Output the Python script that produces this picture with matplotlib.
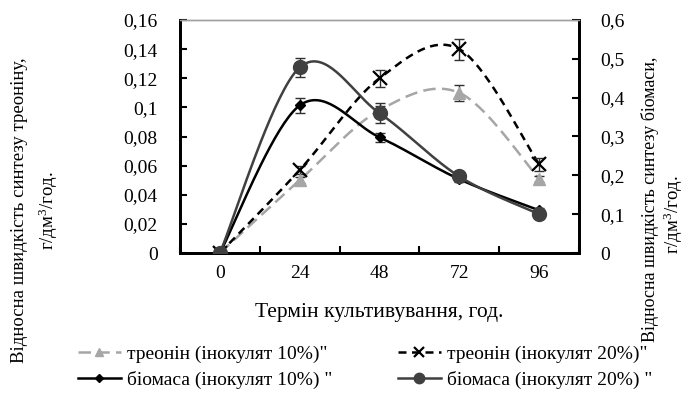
import numpy as np
import matplotlib
matplotlib.use("Agg")
import matplotlib.pyplot as plt
from matplotlib.lines import Line2D

plt.rcParams['font.family'] = ['Liberation Serif', 'DejaVu Serif']
plt.rcParams['mathtext.fontset'] = 'custom'
plt.rcParams['mathtext.rm'] = 'Liberation Serif'

# ---- data ----
hours = ["0", "24", "48", "72", "96"]
thr10 = [0.0, 0.050, 0.098, 0.110, 0.051]
thr10_err = [0.0, 0.002, 0.003, 0.0055, 0.002]
thr20 = [0.0, 0.057, 0.120, 0.140, 0.061]
thr20_err = [0.0, 0.003, 0.006, 0.0072, 0.0045]
bio10 = [0.0, 0.380, 0.298, 0.190, 0.110]
bio10_err = [0.0, 0.019, 0.012, 0.006, 0.005]
bio20 = [0.0, 0.478, 0.360, 0.197, 0.100]
bio20_err = [0.0, 0.024, 0.026, 0.006, 0.005]

labels = ['треонін (інокулят 10%)"', 'треонін (інокулят 20%)"',
          'біомаса (інокулят 10%) "', 'біомаса (інокулят 20%) "']
xlabel = "Термін культивування, год."
ylabel_left = ["Відносна швидкість синтезу треоніну,", "г/дм$\\mathregular{^3}$/год."]
ylabel_right = ["Відносна швидкість синтезу біомаси,", "г/дм$\\mathregular{^3}$/год."]
left_ticks = [0, 0.02, 0.04, 0.06, 0.08, 0.1, 0.12, 0.14, 0.16]
right_ticks = [0, 0.1, 0.2, 0.3, 0.4, 0.5, 0.6]


def smooth(xs, ys, n=40):
    """Excel-like smoothed line (Catmull-Rom -> cubic Bezier)."""
    P = np.column_stack([xs, ys]).astype(float)
    out = []
    m = len(P)
    for i in range(m - 1):
        p0 = P[i - 1] if i > 0 else P[i]
        p1 = P[i]
        p2 = P[i + 1]
        p3 = P[i + 2] if i + 2 < m else P[i + 1]
        c1 = p1 + (p2 - p0) / 6.0
        c2 = p2 - (p3 - p1) / 6.0
        t = np.linspace(0, 1, n)[:, None]
        seg = ((1 - t) ** 3) * p1 + 3 * ((1 - t) ** 2) * t * c1 + 3 * (1 - t) * t ** 2 * c2 + t ** 3 * p2
        out.append(seg if i == 0 else seg[1:])
    s = np.vstack(out)
    return s[:, 0], s[:, 1]


fig = plt.figure(figsize=(6.86, 3.96), dpi=100)
ax = fig.add_axes([180 / 686, 1 - 253 / 396, 399 / 686, 233 / 396])
ax2 = ax.twinx()

x = np.arange(len(hours))
light = '#a6a6a6'
dark = '#404040'

styles = [
    (ax, thr10, thr10_err, light, (0, (5, 2.5)), '^', 8.5, light),
    (ax, thr20, thr20_err, 'black', (0, (3.2, 2.2)), 'x', 10, 'black'),
    (ax2, bio10, bio10_err, 'black', '-', 'D', 5.5, 'black'),
    (ax2, bio20, bio20_err, dark, '-', 'o', 10, dark),
]
handles = []
for (a, ys, es, col, ls, mk, ms, mc), lab in zip(styles, labels):
    sx, sy = smooth(x, ys)
    a.plot(sx, sy, color=col, lw=1.8, ls=ls, solid_capstyle='butt', zorder=2)
    a.errorbar(x, ys, yerr=es, fmt='none', ecolor='#303030', elinewidth=1.0,
               capsize=3.5, capthick=1.0, zorder=3)
    mew = 1.6 if mk == 'x' else 1.0
    a.plot(x, ys, ls='none', marker=mk, ms=ms, color=mc, mec=mc, mew=mew, zorder=4)
    handles.append(Line2D([], [], color=col, lw=1.8, ls=ls, marker=mk,
                          ms=ms * 0.75, mec=mc, mfc=mc, mew=mew))

ax.set_xlim(-0.5, 4.5)
ax.set_ylim(0, 0.16)
ax2.set_ylim(0, 0.6)
ax.set_xticks(x)
ax.set_xticklabels(hours)
ax.set_xticks(np.arange(-0.5, 4.6, 1.0), minor=True)
ax.tick_params(axis='x', which='major', length=0, pad=9, labelsize=14)
ax.tick_params(axis='x', which='minor', direction='in', length=5, width=1.5)
ax.set_yticks(left_ticks)
ax.set_yticklabels(["0" if v == 0 else ("%g" % v).replace('.', ',') for v in left_ticks])
ax2.set_yticks(right_ticks)
ax2.set_yticklabels(["0" if v == 0 else ("%g" % v).replace('.', ',') for v in right_ticks])
ax.tick_params(axis='y', direction='in', length=5, width=1.5, labelsize=14, pad=16)
ax2.tick_params(axis='y', direction='in', length=5, width=1.5, labelsize=14, pad=15)

for a in (ax, ax2):
    for side in ('left', 'right', 'bottom'):
        a.spines[side].set_linewidth(2.0)
        a.spines[side].set_color('black')
    a.spines['top'].set_linewidth(1.0)
    a.spines['top'].set_color('#a0a0a0')

ax.set_xlabel(xlabel, fontsize=15.5, labelpad=15)

fig.text(20 / 686, 1 - 210 / 396, ylabel_left[0], rotation=90, ha='center', va='center', fontsize=13.5)
fig.text(48 / 686, 1 - 211 / 396, ylabel_left[1], rotation=90, ha='center', va='center', fontsize=13.5)
fig.text(650 / 686, 1 - 199 / 396, ylabel_right[0], rotation=90, ha='center', va='center', fontsize=13)
fig.text(673 / 686, 1 - 215 / 396, ylabel_right[1], rotation=90, ha='center', va='center', fontsize=13.5)

order = [0, 2, 1, 3]
fig.legend([handles[i] for i in order], [labels[i] for i in order], ncol=2,
           loc='center left', bbox_to_anchor=(78 / 686, 1 - 367 / 396), frameon=False,
           borderpad=0, borderaxespad=0,
           fontsize=14, handlelength=2.2, handletextpad=0.3, columnspacing=3.4,
           labelspacing=0.4)

fig.savefig("out.png", dpi=100)
